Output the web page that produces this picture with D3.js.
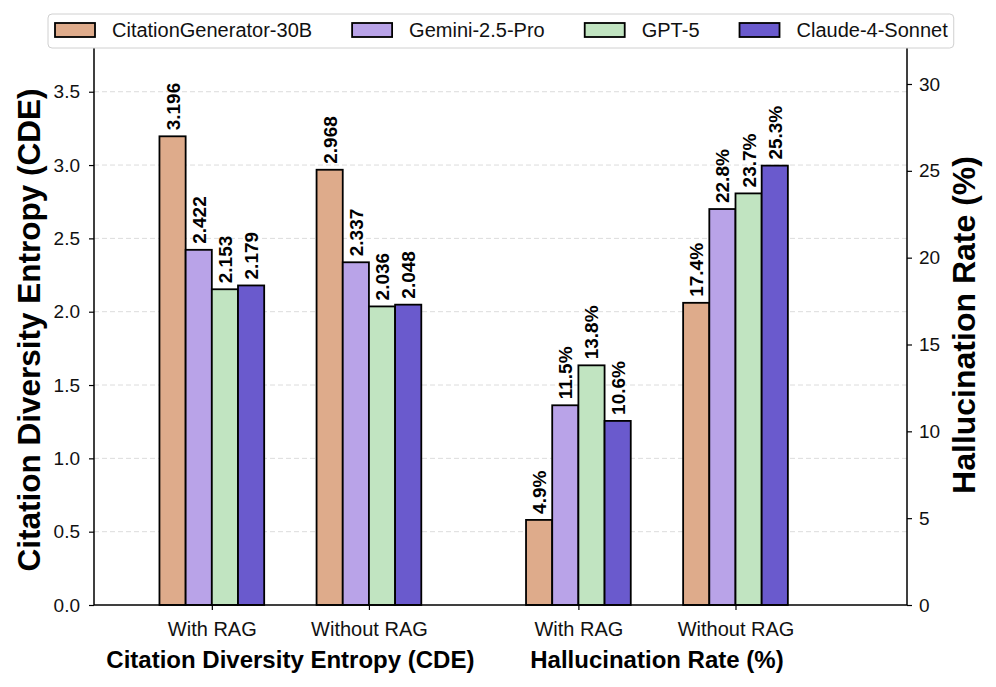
<!DOCTYPE html>
<html>
<head>
<meta charset="utf-8">
<script src="https://cdn.jsdelivr.net/npm/d3@7"></script>
<style>
  html, body { margin: 0; padding: 0; background: #fff; }
  svg text { font-family: "Liberation Sans", Arial, sans-serif; }
</style>
</head>
<body>
<svg id="chart" width="996" height="687"></svg>
<script>
// ---- data ----
const models = ["CitationGenerator-30B", "Gemini-2.5-Pro", "GPT-5", "Claude-4-Sonnet"];
const colors = ["#DEAB8B", "#B9A3E8", "#C1E4C1", "#6A5ACD"];
const settings = ["With RAG", "Without RAG"];
const cdeValues = [
  [3.196, 2.422, 2.153, 2.179],   // With RAG
  [2.968, 2.337, 2.036, 2.048]    // Without RAG
];
const halluValues = [
  [4.9, 11.5, 13.8, 10.6],        // With RAG
  [17.4, 22.8, 23.7, 25.3]        // Without RAG
];
const groupPositions = [0, 0.6, 1.4, 2.0];
const groupTitles = ["Citation Diversity Entropy (CDE)", "Hallucination Rate (%)"];
const leftTicks = [0, 0.5, 1.0, 1.5, 2.0, 2.5, 3.0, 3.5];
const rightTicks = [0, 5, 10, 15, 20, 25, 30];

// ---- layout ----
const svg = d3.select("#chart");
const L = 94, R = 907, T = 47, B = 605;
const barW = 0.1;

const x = d3.scaleLinear().domain([-0.45, 2.655]).range([L, R]);
const yL = d3.scaleLinear().domain([0, 3.805]).range([B, T]);
const yR = d3.scaleLinear().domain([0, 32.13]).range([B, T]);

// grid (left axis)
svg.append("g").selectAll("line").data(leftTicks.filter(d => d > 0)).join("line")
  .attr("x1", L).attr("x2", R)
  .attr("y1", d => yL(d)).attr("y2", d => yL(d))
  .attr("stroke", "#dcdcdc").attr("stroke-width", 1).attr("stroke-dasharray", "5,3");

// bars
const bars = [];
cdeValues.forEach((row, gi) => row.forEach((v, mi) => bars.push({pos: groupPositions[gi], mi, v, scale: yL, label: v.toFixed(3)})));
halluValues.forEach((row, gi) => row.forEach((v, mi) => bars.push({pos: groupPositions[gi + 2], mi, v, scale: yR, label: v.toFixed(1) + "%"})));

const bx = d => x(d.pos + (d.mi - 1.5) * barW - barW / 2);
const bw = x(barW) - x(0);

svg.append("g").selectAll("rect").data(bars).join("rect")
  .attr("x", bx).attr("width", bw)
  .attr("y", d => d.scale(d.v)).attr("height", d => B - d.scale(d.v))
  .attr("fill", d => colors[d.mi]).attr("stroke", "#000").attr("stroke-width", 1.8);

svg.append("g").selectAll("text").data(bars).join("text")
  .attr("transform", d => `translate(${bx(d) + bw / 2 + 7},${d.scale(d.v) - 6}) rotate(-90)`)
  .attr("text-anchor", "start")
  .attr("font-size", 19).attr("font-weight", "bold").attr("fill", "#000")
  .text(d => d.label);

// axes
const axL = d3.axisLeft(yL).tickValues(leftTicks).tickFormat(d3.format(".1f")).tickSize(5).tickPadding(9);
const axR = d3.axisRight(yR).tickValues(rightTicks).tickFormat(d3.format("d")).tickSize(5).tickPadding(7);
const axB = d3.axisBottom(x).tickValues(groupPositions).tickFormat((d, i) => settings[i % 2]).tickSize(5).tickPadding(12);

function styleAxis(g, size) {
  g.select(".domain").remove();
  g.selectAll("line").attr("stroke", "#000").attr("stroke-width", 1.2);
  g.selectAll("text").attr("font-size", size).attr("fill", "#111")
    .style("font-family", '"Liberation Sans", Arial, sans-serif');
}
svg.append("g").attr("transform", `translate(${L},0)`).call(axL).call(styleAxis, 19);
svg.append("g").attr("transform", `translate(${R},0)`).call(axR).call(styleAxis, 19);
svg.append("g").attr("transform", `translate(0,${B})`).call(axB).call(styleAxis, 20);

// frame
svg.append("rect").attr("x", L).attr("y", T).attr("width", R - L).attr("height", B - T)
  .attr("fill", "none").attr("stroke", "#000").attr("stroke-width", 1.5);

// axis titles
svg.append("text").attr("transform", `translate(40,330) rotate(-90)`)
  .attr("text-anchor", "middle").attr("font-size", 31.5).attr("font-weight", "bold")
  .text("Citation Diversity Entropy (CDE)");
svg.append("text").attr("transform", `translate(975,325) rotate(-90)`)
  .attr("text-anchor", "middle").attr("font-size", 32).attr("font-weight", "bold")
  .text("Hallucination Rate (%)");

// group titles
[0, 1].forEach(i => {
  svg.append("text")
    .attr("x", x((groupPositions[i * 2] + groupPositions[i * 2 + 1]) / 2))
    .attr("y", 668)
    .attr("text-anchor", "middle").attr("font-size", 24).attr("font-weight", "bold")
    .text(groupTitles[i]);
});

// legend
const lg = svg.append("g");
const frame = lg.append("rect").attr("x", 48).attr("y", 14).attr("height", 34).attr("rx", 4)
  .attr("fill", "#fff").attr("stroke", "#d0d0d0").attr("stroke-width", 1);
let cx = 55;
let lastEnd = 0;
models.forEach((m, i) => {
  lg.append("rect").attr("x", cx).attr("y", 23).attr("width", 40).attr("height", 14)
    .attr("fill", colors[i]).attr("stroke", "#000").attr("stroke-width", 1.8);
  const t = lg.append("text").attr("x", cx + 57).attr("y", 37).attr("font-size", 20).attr("fill", "#111").text(m);
  const w = t.node().getComputedTextLength();
  lastEnd = cx + 57 + w;
  cx = lastEnd + 40;
});
frame.attr("width", lastEnd + 6 - 48);
</script>
</body>
</html>
